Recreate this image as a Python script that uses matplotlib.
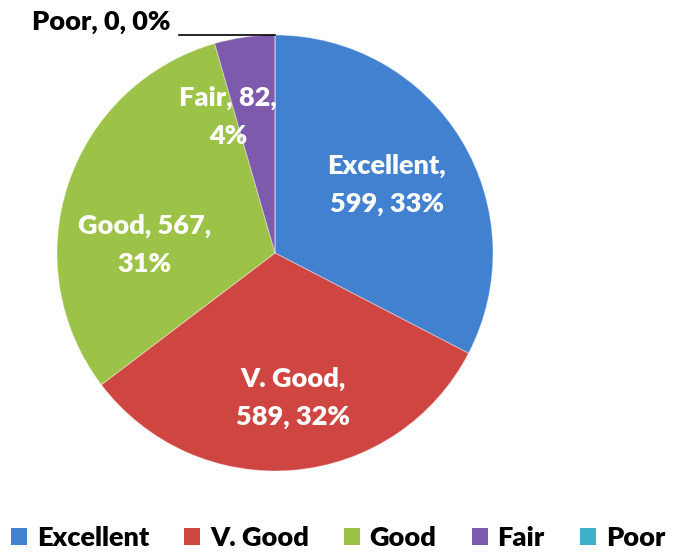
import numpy as np
import matplotlib.pyplot as plt
from matplotlib.patches import Rectangle

## ===== Data ===== ##
labels = ["Excellent", "V. Good", "Good", "Fair", "Poor"]
counts = [599, 589, 567, 82, 0]
colors = ["#4181d0", "#cf4541", "#9cc247", "#7d5aab", "#3fb0cb"]
label_text = ["Excellent,\n599, 33%", "V. Good,\n589, 32%", "Good, 567,\n31%", "Fair, 82,\n4%"]
## ================ ##

plt.rcParams['font.family'] = ['Lato', 'DejaVu Sans']
FS = 19.5

fig = plt.figure(figsize=(6.76, 5.52), dpi=100)
ax = fig.add_axes([0.0843, 0.1467, 0.645, 0.79])

wedges, _ = ax.pie(counts, colors=colors, startangle=90, counterclock=False,
                   wedgeprops=dict(edgecolor=(1, 1, 1, 0.35), linewidth=0.8))
ax.set_xlim(-1, 1)
ax.set_ylim(-1, 1)
ax.set_aspect('equal')

# label placement (radius, angle nudge) roughly like Excel's best fit
place = [(0.60, 0), (0.67, 2), (0.60, 15), (0.66, 11)]
for w, txt, (r, nudge) in zip(wedges[:4], label_text, place):
    mid = np.deg2rad((w.theta1 + w.theta2) / 2 + nudge)
    ax.text(r * np.cos(mid), r * np.sin(mid), txt, ha='center', va='center',
            color='white', fontsize=FS, fontweight='heavy', linespacing=1.7)

# zero slice label with leader line
ax.plot([-0.44, 0.0], [1.0, 1.0], color='black', lw=1.2, clip_on=False)
ax.text(-0.48, 1.06, "Poor, 0, 0%", ha='right', va='center', fontsize=FS,
        fontweight='heavy', color='black')

handles = [Rectangle((0, 0), 1, 1, facecolor=c, edgecolor='none') for c in colors]
fig.legend(handles, labels, loc='lower center', bbox_to_anchor=(0.5, -0.04),
           ncol=5, frameon=False, prop=dict(weight='heavy', size=FS),
           handlelength=0.6, handleheight=0.6, handletextpad=0.35, columnspacing=1.3)

fig.savefig('out.png', dpi=100)
